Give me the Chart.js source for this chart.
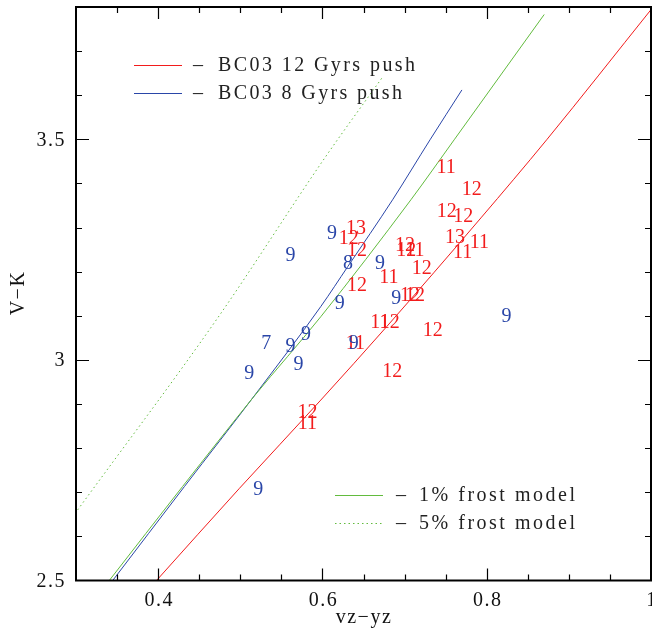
<!DOCTYPE html>
<html>
<head>
<meta charset="utf-8">
<script src="https://cdn.jsdelivr.net/npm/chart.js@4/dist/chart.umd.min.js"></script>
<style>
  body { margin: 0; background: #fff; }
  #wrap { width: 652px; height: 629px; }
</style>
</head>
<body>
<div id="wrap"><canvas id="chart"></canvas></div>
<script>
// model tracks
const bc12X = [0.398, 0.499, 0.598, 0.678, 0.793, 0.873, 1.0];
const bc12Y = [2.5, 2.709, 2.909, 3.075, 3.322, 3.499, 3.794];
const bc8X = [0.3447, 0.432, 0.518, 0.598, 0.631, 0.6854, 0.731, 0.7698];
const bc8Y = [2.5, 2.713, 2.921, 3.121, 3.212, 3.363, 3.499, 3.612];
const frost1X = [0.3405, 0.4297, 0.5166, 0.598, 0.7077, 0.7604, 0.870];
const frost1Y = [2.5, 2.713, 2.917, 3.098, 3.363, 3.499, 3.783];
const frost5X = [0.302, 0.4724, 0.604, 0.6724];
const frost5Y = [2.66, 3.095, 3.461, 3.639];

// labelled objects, red group
const redX = [0.7505, 0.7817, 0.7513, 0.7715, 0.7614, 0.791, 0.7707, 0.641, 0.632, 0.642,
  0.7006, 0.702, 0.7125, 0.721, 0.681, 0.642, 0.7067, 0.7128, 0.670, 0.682, 0.7343, 0.640,
  0.685, 0.5818, 0.5818];
const redY = [3.438, 3.388, 3.339, 3.327, 3.279, 3.267, 3.246, 3.299, 3.276, 3.250,
  3.261, 3.250, 3.250, 3.208, 3.188, 3.171, 3.148, 3.148, 3.087, 3.087, 3.068, 3.038,
  2.976, 2.883, 2.858];
const redLabels = ['11', '12', '12', '12', '13', '11', '11', '13', '12', '12',
  '12', '12', '11', '12', '11', '12', '12', '12', '11', '12', '12', '11',
  '12', '12', '11'];

// blue group
const blueX = [0.561, 0.6115, 0.631, 0.670, 0.621, 0.690, 0.638, 0.5316, 0.580, 0.561, 0.571, 0.511, 0.522, 0.824];
const blueY = [3.239, 3.288, 3.220, 3.220, 3.129, 3.140, 3.040, 3.040, 3.059, 3.032, 2.991, 2.970, 2.709, 3.099];
const blueLabels = ['9', '9', '8', '9', '9', '9', '9', '7', '9', '9', '9', '9', '9', '9'];

const xTickLabels = ['0.4', '0.6', '0.8', '1'];
const yTickLabels = ['2.5', '3', '3.5'];

const RED = '#f21c1c';
const BLUE = '#2a46a8';
const GREEN = '#62bb3e';
const FONT = '"Liberation Serif", "DejaVu Serif", serif';

function pts(xs, ys) {
  return xs.map((x, i) => ({ x: x, y: ys[i] }));
}

function spacedText(ctx, text, x, y, width) {
  ctx.letterSpacing = '0px';
  const w = ctx.measureText(text).width;
  const sp = text.length > 1 ? (width - w) / (text.length - 1) : 0;
  ctx.letterSpacing = sp + 'px';
  ctx.textAlign = 'left';
  ctx.fillText(text, x, y);
  ctx.letterSpacing = '0px';
}

const framePlugin = {
  id: 'frame',
  afterDatasetsDraw(chart) {
    const ctx = chart.ctx;
    const a = chart.chartArea;
    const xs = chart.scales.x, ys = chart.scales.y;
    ctx.save();

    // number labels at each object position
    chart.data.datasets.forEach((ds, di) => {
      if (!ds.labels) return;
      const meta = chart.getDatasetMeta(di);
      ctx.fillStyle = ds.textColor;
      ctx.font = '20px ' + FONT;
      ctx.textAlign = 'center';
      ctx.textBaseline = 'middle';
      meta.data.forEach((el, i) => {
        ctx.fillText(ds.labels[i], el.x, el.y + 1);
      });
    });

    // frame
    ctx.strokeStyle = '#000';
    ctx.lineWidth = 2;
    ctx.strokeRect(a.left, a.top, a.right - a.left, a.bottom - a.top);

    // inward ticks on all four sides
    ctx.lineWidth = 1.2;
    ctx.beginPath();
    for (let v = 0.35; v < xs.max - 1e-9; v += 0.05) {
      const px = Math.round(xs.getPixelForValue(v)) + 0.5;
      const major = Math.abs(v / 0.2 - Math.round(v / 0.2)) < 1e-6;
      const len = major ? 12 : 6;
      ctx.moveTo(px, a.bottom); ctx.lineTo(px, a.bottom - len);
      ctx.moveTo(px, a.top); ctx.lineTo(px, a.top + len);
    }
    for (let v = 2.6; v < ys.max - 1e-9; v += 0.1) {
      const py = Math.round(ys.getPixelForValue(v)) + 0.5;
      const major = Math.abs(v / 0.5 - Math.round(v / 0.5)) < 1e-6;
      const len = major ? 13 : 6;
      ctx.moveTo(a.left, py); ctx.lineTo(a.left + len, py);
      ctx.moveTo(a.right, py); ctx.lineTo(a.right - len, py);
    }
    ctx.stroke();

    // tick labels
    ctx.fillStyle = '#111';
    ctx.font = '20px ' + FONT;
    ctx.letterSpacing = '1.5px';
    ctx.textBaseline = 'middle';
    ctx.textAlign = 'center';
    xTickLabels.forEach(t => {
      ctx.fillText(t, xs.getPixelForValue(parseFloat(t)) + 1, 601);
    });
    ctx.textAlign = 'right';
    yTickLabels.forEach(t => {
      ctx.fillText(t, 66, ys.getPixelForValue(parseFloat(t)) + 1);
    });
    ctx.letterSpacing = '0px';

    // axis titles
    ctx.textAlign = 'center';
    ctx.letterSpacing = '1.5px';
    ctx.fillText('vz\u2212yz', 364, 618);
    ctx.save();
    ctx.translate(19, 293);
    ctx.rotate(-Math.PI / 2);
    ctx.fillText('V\u2212K', 0, 0);
    ctx.restore();
    ctx.letterSpacing = '0px';

    // in-plot legends
    const rows = [
      { y: 65, color: RED, dash: [], text: 'BC03 12 Gyrs push', w: 197 },
      { y: 93, color: BLUE, dash: [], text: 'BC03 8 Gyrs push', w: 184 },
      { y: 495, color: GREEN, dash: [], text: '1% frost model', w: 156 },
      { y: 523, color: GREEN, dash: [1.5, 3], text: '5% frost model', w: 156 }
    ];
    rows.forEach((r, i) => {
      const x0 = i < 2 ? 134 : 335;
      ctx.strokeStyle = r.color;
      ctx.lineWidth = 1;
      ctx.setLineDash(r.dash);
      ctx.beginPath();
      ctx.moveTo(x0, r.y + 0.5); ctx.lineTo(x0 + 48, r.y + 0.5);
      ctx.stroke();
      ctx.setLineDash([]);
      ctx.fillStyle = '#222';
      ctx.font = '20px ' + FONT;
      ctx.textBaseline = 'alphabetic';
      ctx.textAlign = 'center';
      ctx.fillText('\u2013', x0 + (i < 2 ? 64 : 66), r.y + 6);
      spacedText(ctx, r.text, x0 + (i < 2 ? 84 : 84), r.y + 6, r.w);
    });

    ctx.restore();
  }
};

function lineSet(xs, ys, color, dash) {
  return {
    data: pts(xs, ys),
    showLine: true,
    borderColor: color,
    borderWidth: 1,
    borderDash: dash,
    pointRadius: 0,
    cubicInterpolationMode: 'monotone',
    fill: false
  };
}

new Chart(document.getElementById('chart'), {
  type: 'scatter',
  data: {
    datasets: [
      lineSet(frost5X, frost5Y, GREEN, [1.5, 3]),
      lineSet(frost1X, frost1Y, GREEN, []),
      lineSet(bc8X, bc8Y, BLUE, []),
      lineSet(bc12X, bc12Y, RED, []),
      { data: pts(redX, redY), labels: redLabels, textColor: RED, pointRadius: 0 },
      { data: pts(blueX, blueY), labels: blueLabels, textColor: BLUE, pointRadius: 0 }
    ]
  },
  options: {
    responsive: true,
    maintainAspectRatio: false,
    animation: false,
    layout: { padding: { left: 76, right: 1, top: 7, bottom: 48.5 } },
    plugins: { legend: { display: false }, tooltip: { enabled: false } },
    scales: {
      x: { type: 'linear', display: false, min: 0.3, max: 1.0 },
      y: { type: 'linear', display: false, min: 2.5, max: 3.8 }
    }
  },
  plugins: [framePlugin]
});
</script>
</body>
</html>
